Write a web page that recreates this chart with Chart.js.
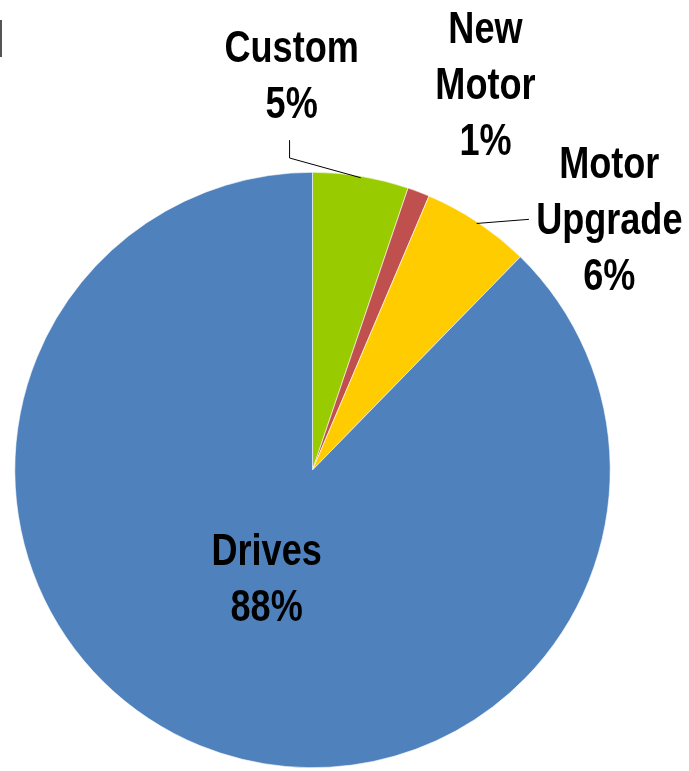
<!DOCTYPE html>
<html>
<head>
<meta charset="utf-8">
<script src="https://cdn.jsdelivr.net/npm/chart.js@4/dist/chart.umd.min.js"></script>
<style>
    html, body { margin: 0; padding: 0; background: #ffffff; }
    #wrap { position: relative; width: 689px; height: 771px; overflow: hidden; }
    #edgeMark { position: absolute; left: 0; top: 20px; width: 2px; height: 37px; background: #555555; }
</style>
</head>
<body>
<div id="wrap">
    <canvas id="pieChart" width="689" height="771"></canvas>
    <div id="edgeMark"></div>
</div>
<script>
// Data
const categories = ['Custom', 'New Motor', 'Motor Upgrade', 'Drives'];
const shares = [5.2, 1.2, 5.9, 87.7];
const sliceColors = ['#99CC00', '#C0504D', '#FFCC00', '#4F81BD'];

// Label lines per slice (text split for wrapping as in the picture)
const labelLines = [['Custom'], ['New', 'Motor'], ['Motor', 'Upgrade'], ['Drives']];

// Label placement in units of radius, relative to pie centre (x, first baseline y)
const labelSpots = [
    { x: -0.07, y: -1.369, leader: [[-0.077, -1.108], [-0.077, -1.048]] },
    { x: 0.581, y: -1.436 },
    { x: 0.997, y: -0.980, leader: [[0.727, -0.842]] },
    { x: -0.154, y: 0.319 }
];

const LINE_HEIGHT = 56;
const NARROW = 0.82;

const sliceLabels = {
    id: 'sliceLabels',
    afterDatasetsDraw(chart) {
        const ctx = chart.ctx;
        const meta = chart.getDatasetMeta(0);
        const total = shares.reduce((a, b) => a + b, 0);

        meta.data.forEach((arc, i) => {
            const { x: cx, y: cy, outerRadius: r, startAngle, endAngle } = arc.getProps(['x', 'y', 'outerRadius', 'startAngle', 'endAngle'], true);
            const spot = labelSpots[i];
            const pct = Math.round(shares[i] / total * 100) + '%';
            const lines = labelLines[i].concat([pct]);

            // Leader line from label to the middle of the slice edge
            if (spot.leader) {
                const mid = (startAngle + endAngle) / 2;
                ctx.save();
                ctx.strokeStyle = '#000000';
                ctx.lineWidth = 1;
                ctx.beginPath();
                spot.leader.forEach((p, k) => {
                    const px = cx + p[0] * r, py = cy + p[1] * r;
                    if (k === 0) ctx.moveTo(px, py); else ctx.lineTo(px, py);
                });
                ctx.lineTo(cx + Math.cos(mid) * r * 0.995, cy + Math.sin(mid) * r * 0.995);
                ctx.stroke();
                ctx.restore();
            }

            ctx.save();
            ctx.fillStyle = '#000000';
            ctx.font = 'bold 44px "Liberation Sans", Arial, sans-serif';
            ctx.textAlign = 'center';
            ctx.textBaseline = 'alphabetic';
            const tx = cx + spot.x * r;
            const ty = cy + spot.y * r;
            lines.forEach((line, k) => {
                ctx.save();
                ctx.translate(tx, ty + k * LINE_HEIGHT);
                ctx.scale(NARROW, 1);
                ctx.fillText(line, 0, 0);
                ctx.restore();
            });
            ctx.restore();
        });
    }
};

new Chart(document.getElementById('pieChart').getContext('2d'), {
    type: 'pie',
    data: {
        labels: categories,
        datasets: [{
            data: shares,
            backgroundColor: sliceColors,
            borderColor: '#ffffff',
            borderWidth: 0.6
        }]
    },
    options: {
        responsive: false,
        animation: false,
        layout: { padding: { left: 14, top: 172, right: 78, bottom: 3 } },
        plugins: {
            legend: { display: false },
            tooltip: { enabled: false }
        }
    },
    plugins: [sliceLabels]
});
</script>
</body>
</html>
